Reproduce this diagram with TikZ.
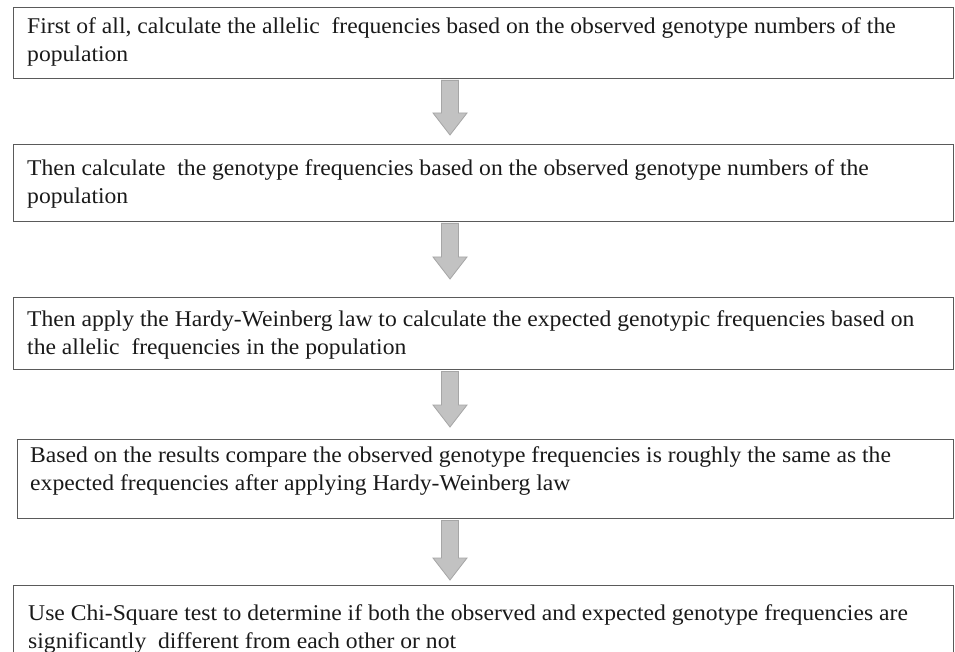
\documentclass[tikz,border=0pt]{standalone}
\usepackage{fontspec}
\setmainfont{Liberation Serif}[FakeStretch=1.05]
\usetikzlibrary{calc}
\definecolor{boxline}{HTML}{5A5A5A}
\definecolor{arrowfill}{HTML}{C2C2C2}
\definecolor{arrowline}{HTML}{A6A6A6}
\definecolor{inktext}{HTML}{1A1A1A}

% gray block arrow from the bottom of one step box down towards the next one
% #1 = upper box, #2 = lower box, #3 = gap left above the lower box
\newcommand{\stepflow}[3]{%
  \path (ax |- #1.south) coordinate (s)
        ($(ax |- #2.north)+(0,-#3)$) coordinate (t);
  \draw[flowarrow] ($(s)+(-8.5,1)$) -- ($(t)+(-8.5,-22)$) -- ($(t)+(-17,-22)$)
    -- (t) -- ($(t)+(17,-22)$) -- ($(t)+(8.5,-22)$) -- ($(s)+(8.5,1)$) -- cycle;
}

\begin{document}
\begin{tikzpicture}[x=1pt,y=-1pt,
  stepbox/.style={draw=boxline, line width=1.4pt, fill=white, inner sep=0pt,
    anchor=north west, minimum width=940pt, minimum height=#1},
  steptext/.style={anchor=north west, inner sep=0pt, align=left, text=inktext,
    font=\fontsize{22.5}{28}\selectfont},
  flowarrow/.style={fill=arrowfill, draw=arrowline, line width=0.8pt, line join=miter}]
\clip (0,0) rectangle (955,652);
\fill[white] (0,0) rectangle (955,652);

\coordinate (ax) at (450,0);

% step boxes
\node[stepbox=71pt] (b1) at (13,7) {};
\node[stepbox=77pt] (b2) at (13,144) {};
\node[stepbox=72pt] (b3) at (13,297) {};
\node[stepbox=79pt, minimum width=936pt] (b4) at (17,439) {};
\node[stepbox=80pt] (b5) at (13,585) {};

% step texts (first baseline 21pt below the node top)
\newcommand{\lead}{\rule{0pt}{21pt}}
\node[steptext] (t1) at (27,12) {\lead First of all, calculate the allelic~ frequencies based on the observed genotype numbers of the\\population};
\node[steptext] (t2) at (27,154) {\lead Then calculate~ the genotype frequencies based on the observed genotype numbers of the\\population};
\node[steptext] (t3) at (27,305) {\lead Then apply the Hardy-Weinberg law to calculate the expected genotypic frequencies based on\\the allelic~ frequencies in the population};
\node[steptext] (t4) at (30,441) {\lead Based on the results compare the observed genotype frequencies is roughly the same as the\\expected frequencies after applying Hardy-Weinberg law};
\node[steptext] (t5) at (28,599) {\lead Use Chi-Square test to determine if both the observed and expected genotype frequencies are\\significantly~ different from each other or not};

% arrows between the steps
\stepflow{b1}{b2}{9}
\stepflow{b2}{b3}{18}
\stepflow{b3}{b4}{12}
\stepflow{b4}{b5}{5}
\end{tikzpicture}
\end{document}
